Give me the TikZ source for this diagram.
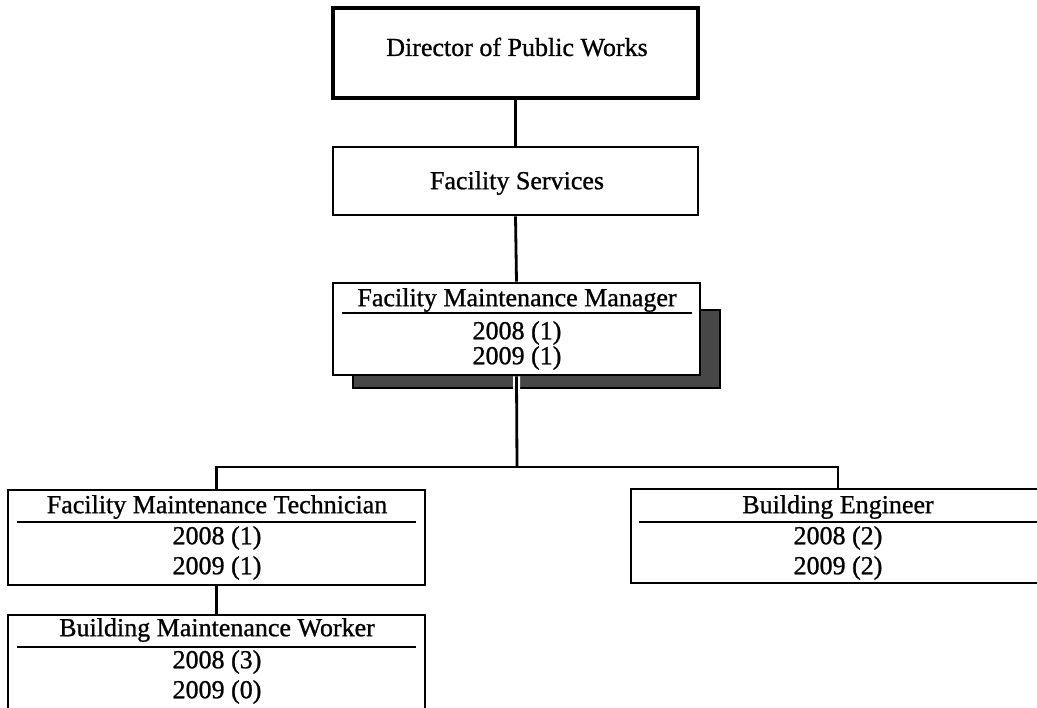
\documentclass[tikz,border=0pt]{standalone}
\usepackage{fontspec}
\setmainfont{Liberation Serif}[BoldFont=Liberation Serif, BoldFeatures={FakeBold=0.9}]
\begin{document}
\begin{tikzpicture}[x=1pt,y=-1pt,
  box/.style={draw, line width=2.8pt, fill=white, inner sep=0pt},
  lbl/.style={font=\fontsize{26}{30}\selectfont\bfseries, inner sep=0pt, anchor=center},
  sepline/.style={line width=2.2pt},
  conn/.style={line width=2.8pt},
  shadowfill/.style={fill=black!72, draw=black, line width=1.5pt}]
\useasboundingbox (0,0) rectangle (1037,708);
% Director
\node[box, line width=3.8pt, minimum width=365pt, minimum height=90pt] (dir) at (515.5,53) {};
\node[lbl] (dirt) at (517,47) {Director of Public Works};
% Facility Services
\node[box, minimum width=365pt, minimum height=68pt] (fs) at (515.5,181) {};
\node[lbl] (fst) at (517,183) {Facility Services};
% Manager with shadow
\path[shadowfill] (353,310) rectangle (720,388);
\coordinate (j) at (517,467);
\node[box, minimum width=367pt, minimum height=92pt] (mgr) at (516.5,329) {};
\node[lbl] (mgrt) at (517,300) {Facility Maintenance Manager};
\draw[sepline] (342,313) -- (692,313);
\node[lbl] (mgra) at (517,333) {2008 (1)};
\node[lbl] (mgrb) at (517,358) {2009 (1)};
% Technician
\node[box, minimum width=417pt, minimum height=95pt] (tech) at (216.5,537.5) {};
\node[lbl] (techt) at (217,507) {Facility Maintenance Technician};
\draw[sepline] (17,522) -- (416,522);
\node[lbl] (techa) at (217,538) {2008 (1)};
\node[lbl] (techb) at (217,568) {2009 (1)};
% Engineer
\node[box, minimum width=414pt, minimum height=94pt] (eng) at (838,536) {};
\node[lbl] (engt) at (838,507) {Building Engineer};
\draw[sepline] (639,522) -- (1040,522);
\node[lbl] (enga) at (838,538) {2008 (2)};
\node[lbl] (engb) at (838,568) {2009 (2)};
% Worker
\node[box, minimum width=417pt, minimum height=94pt] (wrk) at (216.5,662) {};
\node[lbl] (wrkt) at (217,630) {Building Maintenance Worker};
\draw[sepline] (17,647) -- (416,647);
\node[lbl] (wrka) at (217,662) {2008 (3)};
\node[lbl] (wrkb) at (217,692) {2009 (0)};
% Connectors
\draw[conn] (dir.south) -- (fs.north);
\draw[conn] (fs.south) -- (mgr.north);
\draw[white, line width=7pt] (mgr.south) -- (j);
\draw[conn] (mgr.south) -- (j);
\draw[conn] (tech.north) |- (j) -| (eng.north);
\draw[conn] (tech.south) -- (wrk.north);
\end{tikzpicture}
\end{document}
